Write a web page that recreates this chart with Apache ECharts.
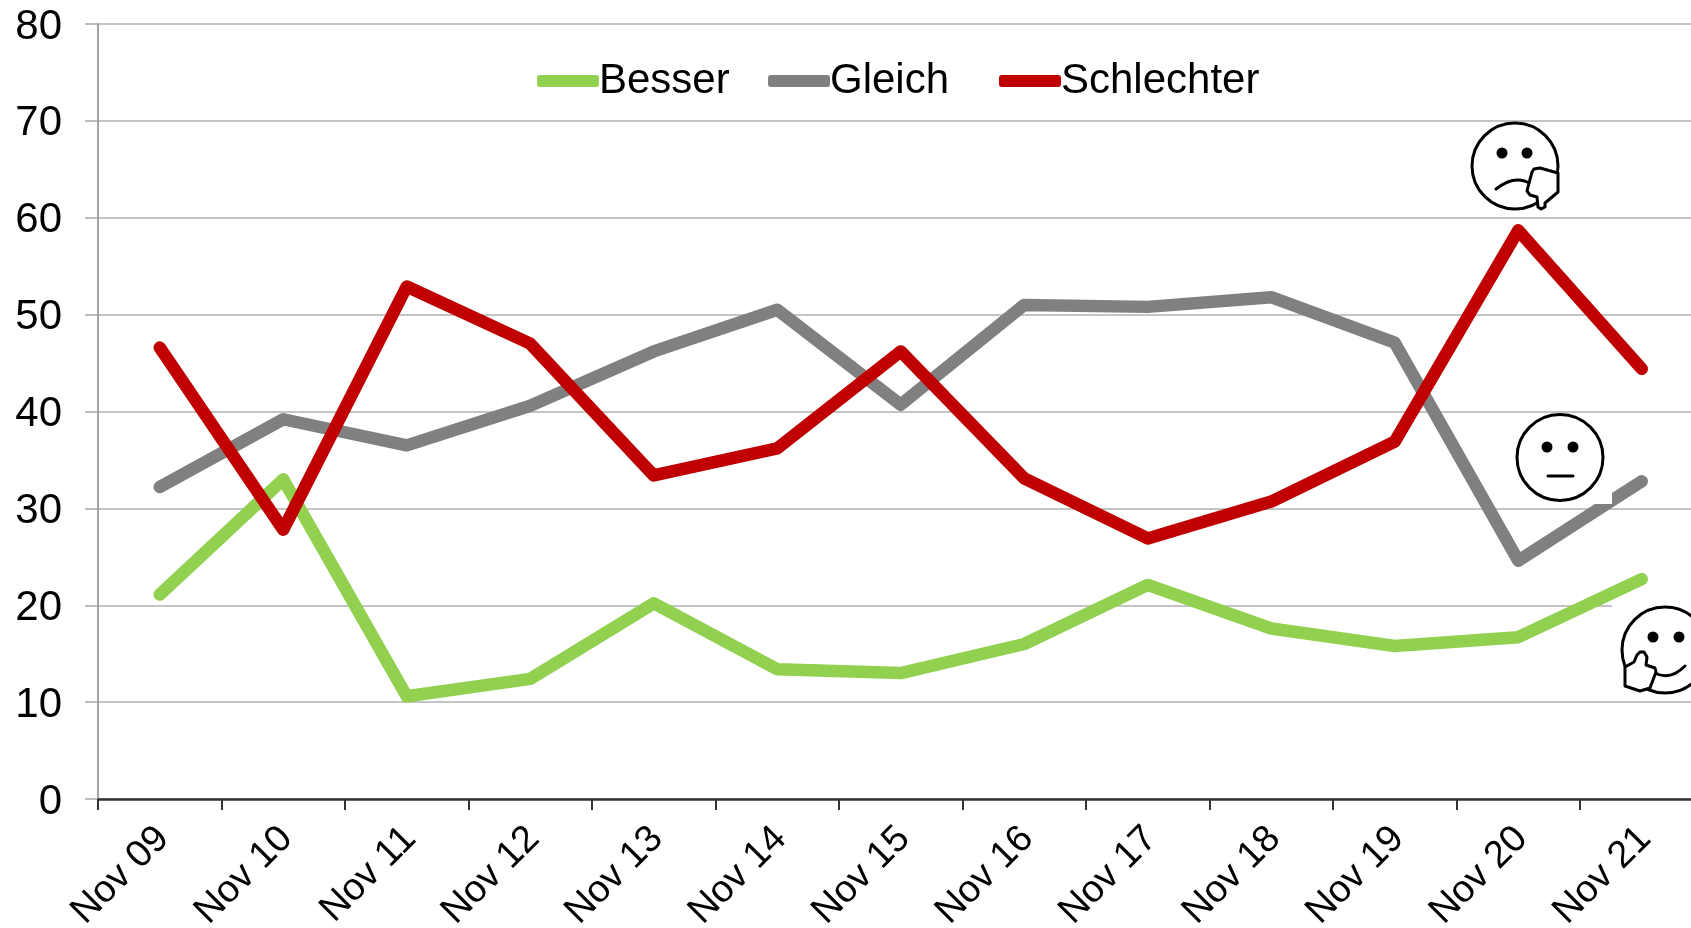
<!DOCTYPE html>
<html><head><meta charset="utf-8">
<style>html,body{margin:0;padding:0;background:#fff}#c{width:1691px;height:928px}</style>
<script src="https://cdn.jsdelivr.net/npm/echarts@6/dist/echarts.min.js"></script>
</head><body><div id="c"></div>
<script>
const categories = ['Nov 09','Nov 10','Nov 11','Nov 12','Nov 13','Nov 14','Nov 15','Nov 16','Nov 17','Nov 18','Nov 19','Nov 20','Nov 21'];
const besser = [21.1,33,10.6,12.4,20.2,13.4,13,16,22.1,17.6,15.8,16.7,22.7];
const gleich = [32.2,39.2,36.5,40.6,46.2,50.5,40.7,51,50.8,51.8,47.1,24.6,32.8];
const schlechter = [46.6,27.8,52.9,47,33.4,36.2,46.2,33.1,26.9,30.7,36.9,58.7,44.4];
const FONT = '"Liberation Sans", Arial, sans-serif';

const stroke = {fill:'none', stroke:'#000', lineWidth:3, lineCap:'round', lineJoin:'round'};
const thumb = {fill:'#fff', stroke:'#000', lineWidth:3, lineJoin:'round'};
const Z = 100;
const box = (x,y,w,h)=>({type:'rect',z:Z,shape:{x,y,width:w,height:h},style:{fill:'#fff'}});
const face = (cx,cy)=>({type:'circle',z:Z+1,shape:{cx,cy,r:43},style:{fill:'#fff',stroke:'#000',lineWidth:3}});
const eye = (cx,cy)=>({type:'circle',z:Z+2,shape:{cx,cy,r:5.5},style:{fill:'#000'}});
const curve = (x1,y1,cpx1,cpy1,x2,y2)=>({type:'bezierCurve',z:Z+2,shape:{x1,y1,x2,y2,cpx1,cpy1},style:stroke});
const hand = points=>({type:'polygon',z:Z+3,shape:{points},style:thumb});
const decorations = [
  box(1461,122,107,94), box(1506,413,106,91), box(1612,603,79,97),
  // frowning face, thumb down
  face(1515,166), eye(1502,153), eye(1527,153),
  curve(1496,189,1515,174,1531,184),
  hand([[1532,172],[1534,169],[1540,168],[1558,173],[1558,192],[1545,203],[1545,207],[1541,209],[1538,207],[1537,197],[1530,195],[1527,191],[1528,187]]),
  // neutral face
  face(1560,457.5), eye(1547,447), eye(1573,447),
  curve(1548,476,1560,476,1573,476),
  // smiling face, thumb up
  face(1665,650), eye(1653,637), eye(1679,637),
  curve(1655,673,1670,681,1685,666),
  hand([[1625,667],[1634,662],[1637,655],[1640,652],[1644,652],[1647,657],[1646,665],[1655,668],[1656,672],[1650,688],[1640,691],[1625,686]])
];

const mk = (name,data,color)=>({name,type:'line',data,symbol:'none',smooth:false,
  lineStyle:{color,width:12.5,cap:'round',join:'round'},itemStyle:{color},emphasis:{disabled:true}});
const legendItem = (name,left)=>({left,top:60,padding:0,itemWidth:62,itemHeight:12,icon:'roundRect',selectedMode:false,
  textStyle:{fontFamily:FONT,fontSize:42,color:'#000',padding:[0,0,0,-5]},data:[name]});

const chart = echarts.init(document.getElementById('c'));
chart.setOption({
  animation:false,
  backgroundColor:'#fff',
  textStyle:{fontFamily:FONT},
  grid:{left:98,top:24,right:-12.5,height:775,containLabel:false,outerBoundsMode:'none'},
  legend:[legendItem('Besser',537),legendItem('Gleich',768),legendItem('Schlechter',999)],
  xAxis:{type:'category',data:categories,boundaryGap:true,
    axisLine:{lineStyle:{color:'#333',width:2.5}},
    axisTick:{show:true,length:11,alignWithLabel:false,lineStyle:{color:'#333',width:2}},
    axisLabel:{rotate:45,fontSize:38,color:'#000',margin:37,padding:[0,-4.5,0,0],interval:0,fontFamily:FONT},
    splitLine:{show:false}},
  yAxis:{type:'value',min:0,max:80,interval:10,
    axisLine:{show:true,lineStyle:{color:'#868686',width:1.5}},
    axisTick:{show:true,length:13,lineStyle:{color:'#a8a8a8',width:1.5}},
    axisLabel:{fontSize:42,color:'#000',margin:36,verticalAlign:'top',padding:[-18,0,0,0],fontFamily:FONT},
    splitLine:{show:true,lineStyle:{color:'#b0b0b0',width:1.5}}},
  series:[mk('Besser',besser,'#92d050'),mk('Gleich',gleich,'#808080'),mk('Schlechter',schlechter,'#c00000')],
  graphic:{elements:decorations}
});
</script></body></html>
